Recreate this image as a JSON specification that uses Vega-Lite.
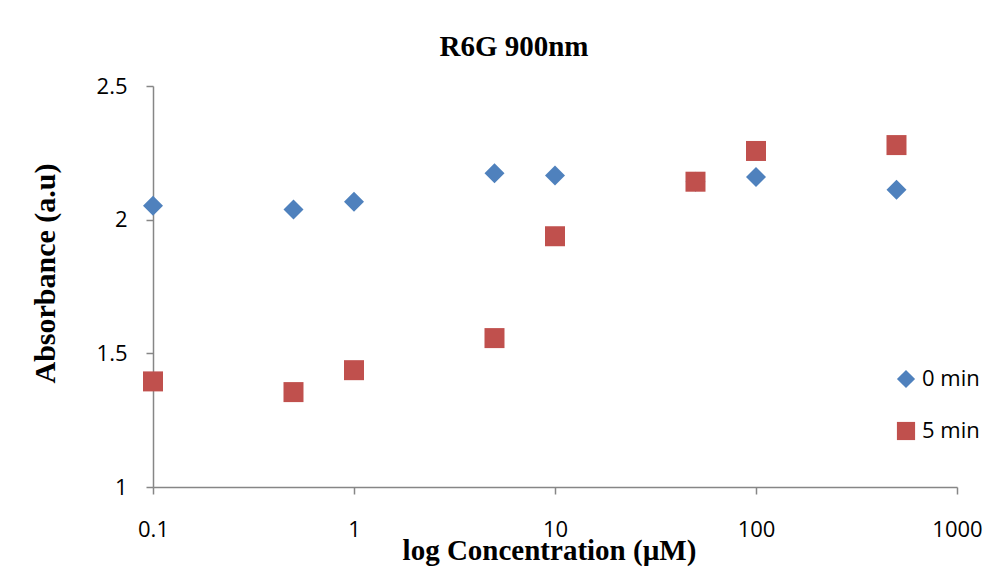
{
  "$schema": "https://vega.github.io/schema/vega-lite/v6.json",
  "autosize": "none",
  "width": 804,
  "height": 401,
  "padding": {"left": 153, "top": 86, "right": 47, "bottom": 93},
  "background": "white",
  "title": {
    "text": "R6G 900nm",
    "font": "Liberation Serif",
    "fontSize": 29,
    "fontWeight": "bold",
    "color": "black",
    "baseline": "alphabetic",
    "anchor": "middle",
    "offset": 19,
    "dx": -41,
    "dy": 29
  },
  "data": {
    "values": [
      {"conc": 0.1, "absorbance": 2.052, "time": "0 min"},
      {"conc": 0.5, "absorbance": 2.038, "time": "0 min"},
      {"conc": 1, "absorbance": 2.067, "time": "0 min"},
      {"conc": 5, "absorbance": 2.174, "time": "0 min"},
      {"conc": 10, "absorbance": 2.165, "time": "0 min"},
      {"conc": 50, "absorbance": 2.142, "time": "0 min"},
      {"conc": 100, "absorbance": 2.16, "time": "0 min"},
      {"conc": 500, "absorbance": 2.112, "time": "0 min"},
      {"conc": 0.1, "absorbance": 1.395, "time": "5 min"},
      {"conc": 0.5, "absorbance": 1.355, "time": "5 min"},
      {"conc": 1, "absorbance": 1.437, "time": "5 min"},
      {"conc": 5, "absorbance": 1.557, "time": "5 min"},
      {"conc": 10, "absorbance": 1.938, "time": "5 min"},
      {"conc": 50, "absorbance": 2.142, "time": "5 min"},
      {"conc": 100, "absorbance": 2.257, "time": "5 min"},
      {"conc": 500, "absorbance": 2.279, "time": "5 min"}
    ]
  },
  "mark": {"type": "point", "filled": true, "opacity": 1, "size": 400},
  "encoding": {
    "x": {
      "field": "conc",
      "type": "quantitative",
      "scale": {"type": "log", "domain": [0.1, 1000], "nice": false},
      "axis": {
        "title": "log Concentration (µM)",
        "values": [0.1, 1, 10, 100, 1000],
        "format": "~g",
        "grid": false,
        "domainColor": "#868686",
        "domainWidth": 1.5,
        "tickColor": "#868686",
        "tickWidth": 1.5,
        "tickSize": 7,
        "labelFont": "Open Sans",
        "labelFontSize": 22,
        "labelColor": "black",
        "labelPadding": 25,
        "labelFlush": false,
        "titleFont": "Liberation Serif",
        "titleFontSize": 29,
        "titleFontWeight": "bold",
        "titleColor": "black",
        "titleX": 396,
        "titleY": 72,
        "titleBaseline": "alphabetic"
      }
    },
    "y": {
      "field": "absorbance",
      "type": "quantitative",
      "scale": {"domain": [1, 2.5], "nice": false, "zero": false},
      "axis": {
        "title": "Absorbance (a.u)",
        "values": [1, 1.5, 2, 2.5],
        "format": "~g",
        "grid": false,
        "domainColor": "#868686",
        "domainWidth": 1.5,
        "tickColor": "#868686",
        "tickWidth": 1.5,
        "tickSize": 7,
        "labelFont": "Open Sans",
        "labelFontSize": 22,
        "labelColor": "black",
        "labelPadding": 19,
        "labelFlush": false,
        "titleFont": "Liberation Serif",
        "titleFontSize": 30,
        "titleFontWeight": "bold",
        "titleColor": "black",
        "titleX": -108,
        "titleY": 187,
        "titleAngle": -90,
        "titleBaseline": "middle",
        "titleAlign": "center"
      }
    },
    "color": {
      "field": "time",
      "type": "nominal",
      "scale": {"domain": ["0 min", "5 min"], "range": ["#4F81BD", "#C0504D"]},
      "legend": {
        "title": null,
        "orient": "none",
        "legendX": 742,
        "legendY": 282,
        "padding": 0,
        "rowPadding": 26,
        "labelFont": "Open Sans",
        "labelFontSize": 22,
        "labelColor": "black",
        "labelOffset": 5,
        "symbolSize": 330,
        "symbolOpacity": 1
      }
    },
    "shape": {
      "field": "time",
      "type": "nominal",
      "scale": {"domain": ["0 min", "5 min"], "range": ["diamond", "square"]}
    }
  },
  "config": {
    "view": {"stroke": null}
  }
}
